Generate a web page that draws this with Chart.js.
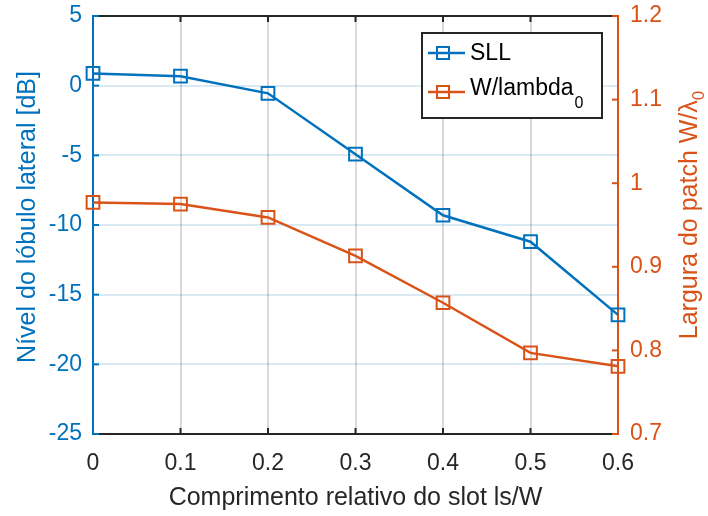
<!DOCTYPE html>
<html>
<head>
<meta charset="utf-8">
<script src="https://cdn.jsdelivr.net/npm/chart.js@4/dist/chart.umd.min.js"></script>
<style>
  html, body { margin: 0; padding: 0; background: #ffffff; }
  #wrap { width: 708px; height: 516px; }
</style>
</head>
<body>
<div id="wrap"><canvas id="c" width="708" height="516"></canvas></div>
<script>
// Relative slot length ls/W
const slotLength = [0, 0.1, 0.2, 0.3, 0.4, 0.5, 0.6];
// Side lobe level [dB]
const sllValues = [0.88, 0.68, -0.55, -4.92, -9.3, -11.2, -16.45];
// Patch width normalised to the free-space wavelength
const widthValues = [0.977, 0.975, 0.959, 0.913, 0.857, 0.797, 0.781];

const xTicks = [0, 0.1, 0.2, 0.3, 0.4, 0.5, 0.6];
const leftTicks = [5, 0, -5, -10, -15, -20, -25];
const rightTicks = [1.2, 1.1, 1, 0.9, 0.8, 0.7];

const BLUE = '#0072BD';
const ORANGE = '#D95319';
const DARK = '#262626';
const FONT = '"Liberation Sans", Arial, sans-serif';

function pairs(xs, ys) { return xs.map((x, i) => ({ x: x, y: ys[i] })); }
function fixTicks(list) { return function (scale) { scale.ticks = list.map(v => ({ value: v })); }; }

// Axis lines with inward tick marks, drawn beneath the data
const axesFrame = {
  id: 'axesFrame',
  beforeDatasetsDraw(chart) {
    const { ctx, chartArea: a, scales } = chart;
    const seg = (x1, y1, x2, y2) => { ctx.beginPath(); ctx.moveTo(x1, y1); ctx.lineTo(x2, y2); ctx.stroke(); };
    const T = 6;
    ctx.save();
    ctx.lineWidth = 2;
    ctx.strokeStyle = DARK;
    seg(a.left, a.top, a.right, a.top);
    seg(a.left, a.bottom, a.right, a.bottom);
    xTicks.forEach(v => {
      const x = scales.x.getPixelForValue(v);
      seg(x, a.bottom, x, a.bottom - T);
      seg(x, a.top, x, a.top + T);
    });
    ctx.strokeStyle = BLUE;
    seg(a.left, a.top - 1, a.left, a.bottom + 1);
    leftTicks.forEach(v => {
      const y = scales.y.getPixelForValue(v);
      seg(a.left, y, a.left + T, y);
    });
    ctx.strokeStyle = ORANGE;
    seg(a.right, a.top - 1, a.right, a.bottom + 1);
    rightTicks.forEach(v => {
      const y = scales.y1.getPixelForValue(v);
      seg(a.right, y, a.right - T, y);
    });
    ctx.restore();
  }
};

// Axis titles and legend box
const annotations = {
  id: 'annotations',
  afterDraw(chart) {
    const { ctx, chartArea: a } = chart;
    const midY = (a.top + a.bottom) / 2;
    ctx.save();

    // x title
    ctx.fillStyle = DARK;
    ctx.font = '25px ' + FONT;
    ctx.textAlign = 'center';
    ctx.textBaseline = 'alphabetic';
    ctx.fillText('Comprimento relativo do slot ls/W', (a.left + a.right) / 2, 505);

    // left title
    ctx.save();
    ctx.translate(35, midY - 8);
    ctx.rotate(-Math.PI / 2);
    ctx.fillStyle = BLUE;
    ctx.textAlign = 'center';
    ctx.fillText('Nível do lóbulo lateral [dB]', 0, 0);
    ctx.restore();

    // right title with subscript
    ctx.save();
    ctx.translate(697, midY - 10);
    ctx.rotate(-Math.PI / 2);
    ctx.fillStyle = ORANGE;
    const main = 'Largura do patch W/λ';
    ctx.font = '25px ' + FONT;
    const wMain = ctx.measureText(main).width;
    ctx.font = '17px ' + FONT;
    const wSub = ctx.measureText('0').width;
    const start = -(wMain + wSub) / 2;
    ctx.textAlign = 'left';
    ctx.font = '25px ' + FONT;
    ctx.fillText(main, start, 0);
    ctx.font = '17px ' + FONT;
    ctx.fillText('0', start + wMain, 7);
    ctx.restore();

    // legend
    const lx = 422, ly = 33, lw = 180, lh = 85;
    ctx.fillStyle = '#ffffff';
    ctx.fillRect(lx, ly, lw, lh);
    ctx.lineWidth = 2;
    ctx.strokeStyle = DARK;
    ctx.strokeRect(lx, ly, lw, lh);
    const rows = [
      { ds: chart.data.datasets[0], y: 53, ty: 54, label: 'SLL', sub: null },
      { ds: chart.data.datasets[1], y: 92, ty: 89, label: 'W/lambda', sub: '0' }
    ];
    rows.forEach(r => {
      ctx.strokeStyle = r.ds.borderColor;
      ctx.lineWidth = 2.5;
      ctx.beginPath(); ctx.moveTo(428, r.y); ctx.lineTo(465, r.y); ctx.stroke();
      ctx.lineWidth = 2;
      ctx.strokeRect(443 - 6, r.y - 6, 12, 12);
      ctx.fillStyle = '#000000';
      ctx.font = '23px ' + FONT;
      ctx.textAlign = 'left';
      ctx.textBaseline = 'middle';
      ctx.fillText(r.label, 470, r.ty);
      if (r.sub) {
        const w = ctx.measureText(r.label).width;
        ctx.font = '16px ' + FONT;
        ctx.fillText(r.sub, 470 + w + 1, r.ty + 15);
      }
    });
    ctx.restore();
  }
};

function fitVertical(width) {
  return function (s) { s.width = width; s.paddingTop = 0; s.paddingBottom = 0; };
}

new Chart(document.getElementById('c'), {
  type: 'line',
  data: {
    datasets: [
      {
        label: 'SLL',
        data: pairs(slotLength, sllValues),
        yAxisID: 'y',
        borderColor: BLUE,
        borderWidth: 2.5,
        pointStyle: 'rect',
        pointRadius: 9,
        pointBorderWidth: 2,
        pointBorderColor: BLUE,
        pointBackgroundColor: 'rgba(0,0,0,0)',
        fill: false,
        tension: 0,
        clip: false
      },
      {
        label: 'W/lambda0',
        data: pairs(slotLength, widthValues),
        yAxisID: 'y1',
        borderColor: ORANGE,
        borderWidth: 2.5,
        pointStyle: 'rect',
        pointRadius: 9,
        pointBorderWidth: 2,
        pointBorderColor: ORANGE,
        pointBackgroundColor: 'rgba(0,0,0,0)',
        fill: false,
        tension: 0,
        clip: false
      }
    ]
  },
  options: {
    responsive: false,
    animation: false,
    layout: { padding: { top: 16, left: 0, right: 0, bottom: 0 } },
    plugins: { legend: { display: false }, tooltip: { enabled: false } },
    scales: {
      x: {
        type: 'linear',
        min: 0, max: 0.6,
        afterBuildTicks: fixTicks(xTicks),
        afterFit(s) { s.height = 82; s.paddingLeft = 0; s.paddingRight = 0; },
        border: { display: false },
        grid: { color: 'rgba(0,0,0,0.15)', lineWidth: 2, drawTicks: false },
        ticks: {
          color: DARK, padding: 16,
          font: { family: FONT, size: 23 },
          callback: v => String(v), maxRotation: 0, autoSkip: false
        }
      },
      y: {
        type: 'linear', position: 'left',
        min: -25, max: 5,
        afterBuildTicks: fixTicks(leftTicks),
        afterFit: fitVertical(93),
        border: { display: false },
        grid: { color: 'rgba(0,114,189,0.15)', lineWidth: 2, drawTicks: false },
        ticks: {
          color: BLUE, padding: 11,
          font: { family: FONT, size: 23 },
          callback: v => String(v), autoSkip: false
        }
      },
      y1: {
        type: 'linear', position: 'right',
        min: 0.7, max: 1.2,
        afterBuildTicks: fixTicks(rightTicks),
        afterFit: fitVertical(90),
        border: { display: false },
        grid: { display: false, drawTicks: false },
        ticks: {
          color: ORANGE, padding: 12,
          font: { family: FONT, size: 23 },
          callback: v => String(v), autoSkip: false
        }
      }
    }
  },
  plugins: [axesFrame, annotations]
});
</script>
</body>
</html>
